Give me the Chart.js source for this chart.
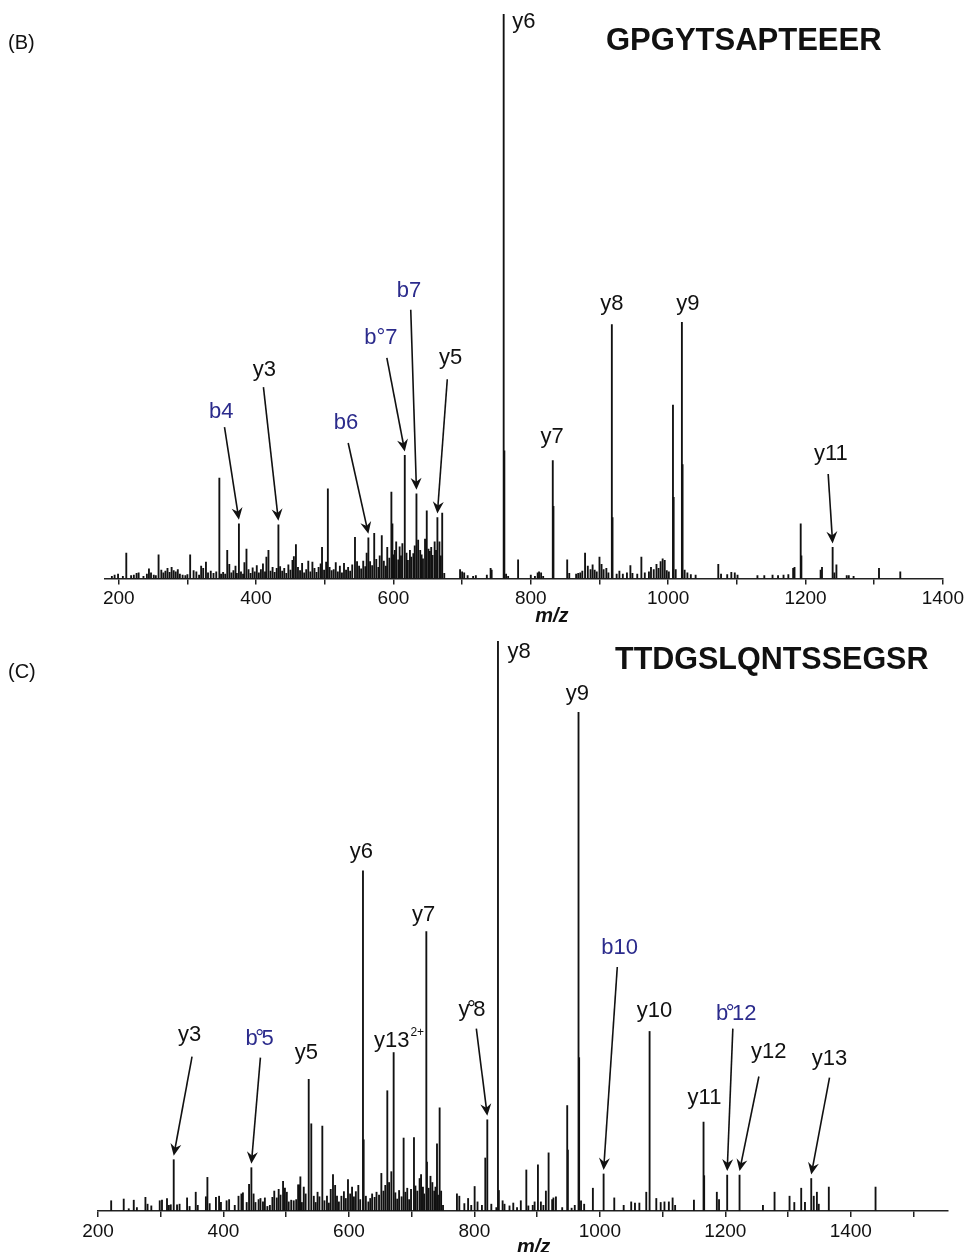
<!DOCTYPE html>
<html><head><meta charset="utf-8">
<script src="https://cdn.jsdelivr.net/npm/chart.js@4.4.0/dist/chart.umd.min.js"></script>
<style>
html,body{margin:0;padding:0;background:#fff;width:967px;height:1252px;overflow:hidden}
.panel{position:absolute;left:0;width:967px}
#wb{top:0;height:630px}
#wc{top:630px;height:622px}
.tag{position:absolute;font:20px 'Liberation Sans',Arial,sans-serif;color:#111;line-height:20px}
.seq{position:absolute;font-weight:bold;font-family:'Liberation Sans',Arial,sans-serif;color:#111}
</style></head><body>
<div class="panel" id="wb"><canvas id="cb" width="967" height="630"></canvas></div>
<div class="panel" id="wc"><canvas id="cc" width="967" height="622"></canvas></div>
<div class="tag" style="left:8px;top:32px">(B)</div>
<div class="tag" style="left:8px;top:661px">(C)</div>
<div class="seq" style="left:606px;top:24px;font-size:31px;line-height:31px">GPGYTSAPTEEER</div>
<div class="seq" style="left:615px;top:643px;font-size:30.5px;line-height:30.5px">TTDGSLQNTSSEGSR</div>
<script>
// ---------- DATA ----------
const ticksB = [200,300,400,500,600,700,800,900,1000,1100,1200,1300,1400];
const ticksC = [200,300,400,500,600,700,800,900,1000,1100,1200,1300,1400,1500];

// Panel B: main peaks [m/z, relative intensity %]
const peaksB = [[211,4.5],[258,4.2],[304,4.2],[346.5,17.8],[358,5.0],[375,9.7],[386,5.2],[418,5.0],[432.5,9.5],[458,6.0],[496,5.5],[504.5,15.9],[544,7.3],[563.5,7.2],[572,8.0],[583,7.6],[597,15.3],[598.5,9.7],[604,6.5],[616.5,21.8],[633.5,15.0],[639,5.0],[648.5,12.0],[651,5.2],[660,6.5],[664,10.8],[671,11.6],[760.5,100],[761.5,22.6],[781.5,3.3],[832,20.9],[833,12.8],[853,3.3],[879,4.5],[900,3.8],[918,45.0],[919,10.8],[961,3.8],[992,3.5],[1007,30.7],[1008,14.4],[1020,45.4],[1021,20.2],[1073,2.5],[1193,9.7],[1194,4.0],[1239.5,5.5],[1245,2.4],[1307,1.8],[1338,1.2]];
// Panel B: background peaks
const noiseB = [[190,0.4],[194,0.6],[199,0.8],[206,0.4],[218,0.5],[222,0.6],[226,0.9],[229,1.0],[236,0.4],[241,0.8],[244,1.7],[247,1.0],[251,0.6],[254,0.5],[262,1.5],[265,1.0],[268,1.3],[271,1.8],[274,1.1],[277,2.0],[280,1.4],[283,1.2],[286,1.6],[289,0.8],[293,0.6],[297,0.5],[300,0.7],[309,1.4],[313,1.2],[317,0.6],[320,2.2],[323,1.8],[327,2.9],[330,1.0],[334,1.3],[338,0.9],[342,1.2],[349,0.8],
[352,1.1],[355,0.8],[361,2.5],[364,1.0],[367,1.4],[370,2.2],[372,0.9],[378,1.2],[381,0.8],[383,2.8],[389,1.6],[392,0.9],[395,1.9],[398,1.2],[401,2.3],[404,1.0],[407,1.6],[410,2.6],[413,1.2],[415,3.8],[421,1.3],[424,2.0],[427,1.1],[430,1.8],[435,2.1],[438,1.3],[441,1.8],[444,0.9],[447,2.4],[450,1.5],[453,3.2],[455,3.9],[461,2.0],[464,1.4],[467,2.7],[470,1.0],[473,1.6],[476,3.1],[479,1.2],[482,2.9],[485,1.8],[488,1.1],[491,2.0],[494,2.6],[499,1.5],[502,2.9],
[507,2.0],[510,1.4],[513,1.6],[516,2.8],[519,1.2],[522,2.2],[525,1.0],[528,2.7],[531,1.5],[534,2.0],[537,1.3],[540,2.4],[547,3.0],[550,2.2],[553,1.7],[556,3.1],[559,2.1],[561,4.5],[566,3.0],[569,2.3],[575,3.4],[578,2.0],[580,4.0],[586,3.1],[589,2.2],[591,5.5],[594,3.6],[600,4.2],[602,5.0],[607,3.3],[609,5.6],[611,4.0],[613,6.2],[619,4.5],[621,3.2],[624,5.0],[626,3.8],[629,4.4],[631,5.8],[636,6.8],[641,4.2],[643,3.5],[646,7.0],[653,4.8],[655,5.5],[657,4.1],[662,5.0],[667,6.5],[669,4.0],[674,0.9],
[697,1.6],[700,1.2],[703,1.0],[708,0.5],[716,0.4],[720,0.5],[736,0.6],[741.5,1.8],[743,1.5],[764,0.8],[767,0.4],[800,0.6],[806,0.4],[810,1.0],[812,1.2],[815,1.0],[818,0.4],[856,0.9],[866,0.8],[869,0.9],[872,1.0],[875,1.3],[883,2.2],[887,1.6],[890,2.4],[893,1.5],[896,1.2],[903,2.5],[906,1.6],[910,1.8],[913,1.0],[925,0.8],[929,1.3],[934,0.8],[940,1.0],[945,2.3],[948,0.9],[955,0.8],[966,1.0],[972,1.2],[975,2.0],[979,1.6],[983,2.5],[986,1.8],[989,3.0],[995,3.2],[998,1.4],[1001,1.2],
[1011,1.6],[1024,1.5],[1028,1.0],[1033,0.7],[1040,0.6],[1077,0.8],[1086,0.7],[1092,1.1],[1097,1.0],[1101,0.6],[1130,0.5],[1140,0.5],[1152,0.6],[1160,0.5],[1168,0.6],[1175,0.7],[1182,1.8],[1184,2.0],[1222,1.5],[1224,2.0],[1242,1.0],[1260,0.5],[1263,0.5],[1270,0.4]];

// Panel C: main peaks
const peaksC = [[221,1.8],[241,2.1],[257,1.9],[275.6,2.4],[298.4,1.8],[310,2.2],[320.7,9.0],[342,2.3],[355.8,3.3],[374.4,5.9],[393,2.6],[428.6,3.0],[440.8,4.7],[444.5,7.6],[488,3.8],[495,5.2],[521.5,4.6],[522.6,6.0],[535.9,23.1],[540,15.3],[557.6,14.9],[574.6,6.4],[598.5,5.5],[622.4,59.7],[623.5,12.5],[651.7,6.6],[661.2,21.1],[667.6,6.9],[671.3,27.8],[687.2,12.8],[703.7,12.9],[712.7,5.7],[723.4,49.0],[724.4,8.6],[730,6.1],[740.4,11.8],[744.6,18.1],[772.2,3.0],[800.4,4.3],[817.4,9.3],[820.6,16.0],[837.6,100],[839,3.6],[882.8,7.2],[901.3,8.1],[918.3,10.2],[948,18.5],[949,10.7],[966,87.5],[967,26.9],[988.9,4.0],[1006,6.5],[1074,3.3],[1079.3,31.5],[1165.3,15.6],[1166.3,6.2],[1186.5,3.3],[1203,6.3],[1222.7,6.3],[1278.5,3.3],[1302.4,2.6],[1321,4.0],[1337,5.7],[1346,3.3],[1365,4.2],[1439.5,4.2]];
// Panel C: background peaks
const noiseC = [[249,0.4],[262,0.6],[279,1.2],[285,0.9],[302,1.9],[313,1.0],[316,1.1],[326,1.1],[330,1.2],[346,0.8],[359,1.0],[372,2.5],[378,1.3],[388,2.4],[396,1.5],[405,1.8],[409,2.0],[418,1.0],[424,2.6],[431,3.2],[437,1.5],[448,3.0],[451,1.5],[456,2.0],[459,2.2],[463,1.6],[466,2.3],[470,0.8],[474,1.0],[478,2.4],[481,3.5],[485,2.3],[491,2.8],[498,4.0],[501,3.3],[504,1.6],[508,1.9],[512,1.8],[516,2.0],[519,4.6],[525,1.5],[528,4.2],[531,3.0],[544,2.6],[547,1.5],[550,3.3],[553,2.5],[561,1.8],[565,2.6],[568,1.4],[571,3.8],[578,4.5],[581,2.6],[584,1.6],[588,2.6],[592,3.4],[595,2.2],[602,3.0],[605,4.2],[608,2.5],[611,3.4],[615,4.5],[618,2.0],[627,2.6],[631,1.6],[634,2.2],[637,3.0],[641,2.4],[644,3.3],[648,2.8],[655,3.5],[658,4.5],[664,5.0],[674,3.2],[677,2.1],[680,3.6],[684,2.5],[690,3.3],[693,4.0],[696,2.0],[699,3.8],[706,4.4],[709,3.5],[715,6.4],[718,4.2],[720,3.0],[727,4.0],[733,5.0],[736,3.5],[738,4.2],[742,2.8],[747,3.5],[750,1.0],[776,2.6],[784,1.3],[790,2.2],[795,1.0],[805,1.6],[812,1.0],[827,1.2],[835,0.6],[845,1.8],[848,1.2],[856,0.9],[862,1.4],[868,0.6],[874,1.8],[886,0.9],[893,1.0],[896,1.6],[906,1.6],[910,1.0],[914,3.5],[924,2.0],[926,2.3],[930,2.5],[940,0.6],[955,0.5],[960,1.0],[970,1.8],[975,1.2],[1023,2.3],[1038,1.0],[1050,1.6],[1056,1.4],[1063,1.4],[1090,2.2],[1097,1.5],[1103,1.6],[1110,1.6],[1116,2.3],[1120,1.0],[1150,1.9],[1190,2.0],[1260,1.0],[1310,1.5],[1327,1.5],[1341,2.6],[1349,1.2]];

// Fragment annotations: label position (m/z, %), optional arrow start and target peak m/z
const annB = [
 {t:'y6', lx:789.9, ly:98.6},
 {t:'b4', c:'b', lx:349.2, ly:29.5, ax:354, ay:26.8, to:375},
 {t:'y3', lx:412.1, ly:37.0, ax:410.7, ay:33.9, to:432.5},
 {t:'b6', c:'b', lx:530.8, ly:27.5, ax:534.1, ay:24.0, to:563.5},
 {t:'b°7', c:'b', lx:581.7, ly:42.6, ax:590.4, ay:39.1, to:616.5},
 {t:'b7', c:'b', lx:622.8, ly:51.0, ax:625.2, ay:47.6, to:633.5},
 {t:'y5', lx:683.4, ly:39.1, ax:678.4, ay:35.3, to:664},
 {t:'y7', lx:831, ly:25.1},
 {t:'y8', lx:918.1, ly:48.6},
 {t:'y9', lx:1028.6, ly:48.7},
 {t:'y11', lx:1236.9, ly:22.0, ax:1233, ay:18.5, to:1239.5}
];
const annC = [
 {t:'y8', lx:871.3, ly:98.1},
 {t:'y9', lx:964.1, ly:90.8},
 {t:'y6', lx:619.8, ly:63.0},
 {t:'y7', lx:719.1, ly:51.9},
 {t:'y°8', tight:true, lx:796.1, ly:35.3, ax:803.1, ay:32.0, to:820.6},
 {t:'y13', sup:'2+', lx:668.1, ly:29.9},
 {t:'y5', lx:532.2, ly:27.8},
 {t:'b°5', c:'b', tight:true, lx:457.8, ly:30.2, ax:458.9, ay:26.9, to:444.5},
 {t:'y3', lx:346.2, ly:30.9, ax:349.9, ay:27.1, to:320.7},
 {t:'b10', c:'b', lx:1031.5, ly:46.2, ax:1027.8, ay:42.8, to:1006},
 {t:'y10', lx:1087.3, ly:35.1},
 {t:'b°12', c:'b', tight:true, lx:1217.4, ly:34.6, ax:1212, ay:32.0, to:1203},
 {t:'y12', lx:1269.4, ly:27.9, ax:1253.5, ay:23.6, to:1222.7},
 {t:'y11', lx:1166.9, ly:19.9},
 {t:'y13', lx:1366.1, ly:26.6, ax:1366.1, ay:23.4, to:1337}
];

// ---------- RENDER ----------
const FONT = "'Liberation Sans', Arial, sans-serif";
Chart.defaults.font.family = FONT;
const BLUE = '#2b2b8c', INK = '#111';

function drawArrow(ctx, sx, sy, ex, ey) {
  const ang = Math.atan2(ey - sy, ex - sx);
  const L = 12, W = 5.5, N = 4;
  ctx.strokeStyle = INK; ctx.fillStyle = INK; ctx.lineWidth = 1.6;
  ctx.beginPath(); ctx.moveTo(sx, sy);
  ctx.lineTo(ex - Math.cos(ang) * N, ey - Math.sin(ang) * N); ctx.stroke();
  const bx = ex - Math.cos(ang) * L, by = ey - Math.sin(ang) * L;
  const px = -Math.sin(ang), py = Math.cos(ang);
  ctx.beginPath();
  ctx.moveTo(ex, ey);
  ctx.lineTo(bx + px * W, by + py * W);
  ctx.lineTo(ex - Math.cos(ang) * (L - N), ey - Math.sin(ang) * (L - N));
  ctx.lineTo(bx - px * W, by - py * W);
  ctx.closePath(); ctx.fill();
}

function labelPlugin(id, ann, peaks, titleMz, titleDy) {
  return {
    id,
    afterDatasetsDraw(chart) {
      const { ctx, scales: { x, y }, chartArea } = chart;
      ctx.save();
      ann.forEach(a => {
        const px = x.getPixelForValue(a.lx), py = y.getPixelForValue(a.ly);
        ctx.font = '22px ' + FONT;
        ctx.fillStyle = a.c === 'b' ? BLUE : INK;
        ctx.textBaseline = 'middle';
        if (a.tight && a.t.includes('°')) {
          const [pre, post] = a.t.split('°');
          const k = -2.5;
          const w1 = ctx.measureText(pre).width, w2 = ctx.measureText('°').width, w3 = ctx.measureText(post).width;
          const total = w1 + w2 + w3 + 2 * k;
          let cx = px - total / 2;
          ctx.textAlign = 'left';
          ctx.fillText(pre, cx, py); cx += w1 + k;
          ctx.fillText('°', cx, py); cx += w2 + k;
          ctx.fillText(post, cx, py);
        } else {
          ctx.textAlign = 'center';
          ctx.fillText(a.t, px, py);
          if (a.sup) {
            const w = ctx.measureText(a.t).width;
            ctx.font = '12px ' + FONT;
            ctx.textAlign = 'left';
            ctx.fillText(a.sup, px + w / 2 + 1, py - 8);
          }
        }
        if (a.to !== undefined) {
          const pk = peaks.find(p => p[0] === a.to);
          const ex = x.getPixelForValue(a.to), ey = y.getPixelForValue(pk[1]) - 4;
          drawArrow(ctx, x.getPixelForValue(a.ax), y.getPixelForValue(a.ay), ex, ey);
        }
      });
      ctx.font = 'italic bold 20px ' + FONT;
      ctx.fillStyle = INK; ctx.textAlign = 'center'; ctx.textBaseline = 'middle';
      ctx.fillText('m/z', x.getPixelForValue(titleMz), chartArea.bottom + titleDy);
      ctx.restore();
    }
  };
}

function makeChart(canvasId, peaks, noise, ticks, xmin, xmax, pad, ann, titleMz, titleDy) {
  const all = peaks.concat(noise).sort((a, b) => a[0] - b[0]).map(p => ({ x: p[0], y: p[1] }));
  return new Chart(document.getElementById(canvasId), {
    type: 'bar',
    data: { datasets: [{ data: all, backgroundColor: INK, borderWidth: 0, barThickness: 1.2 }] },
    options: {
      responsive: false, animation: false,
      layout: { padding: pad },
      plugins: { legend: { display: false }, tooltip: { enabled: false } },
      scales: {
        x: {
          type: 'linear', min: xmin, max: xmax, offset: false,
          afterBuildTicks: s => { s.ticks = ticks.map(v => ({ value: v })); },
          afterFit: s => { s.height = 40; },
          grid: { offset: false, drawOnChartArea: false, drawTicks: true, tickLength: 6, color: '#222', lineWidth: 1.5 },
          border: { display: true, color: '#222', width: 1.5 },
          ticks: { callback: v => (v % 200 === 0 ? String(v) : ''), font: { size: 19 }, color: INK, padding: 3, maxRotation: 0, autoSkip: false }
        },
        y: { display: false, min: 0, max: 100 }
      }
    },
    plugins: [labelPlugin(canvasId + 'lbl', ann, peaks, titleMz, titleDy)]
  });
}

makeChart('cb', peaksB, noiseB, ticksB, 180, 1400, { left: 105, right: 22, top: 14, bottom: 11.5 }, annB, 830.6, 38);
makeChart('cc', peaksC, noiseC, ticksC, 200, 1555, { left: 98, right: 19, top: 11, bottom: 1 }, annC, 894.4, 36);
</script>
</body></html>
